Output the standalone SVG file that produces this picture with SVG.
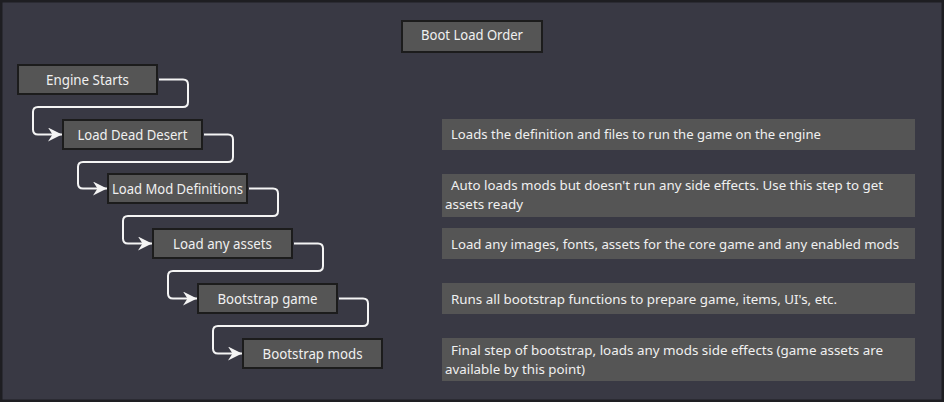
<svg xmlns="http://www.w3.org/2000/svg" width="944" height="402" viewBox="0 0 944 402">
<style>
.bg{fill:#393944;stroke:#1e1e22;stroke-width:3}
.node rect{fill:#555555;stroke:#1c1c1c;stroke-width:2}
.node text{font-family:"Noto Sans","Liberation Sans",sans-serif;font-size:13.5px;fill:#f0f0f0;text-anchor:middle}
.desc rect{fill:#555555}
.desc text{font-family:"Noto Sans","Liberation Sans",sans-serif;font-size:13px;fill:#f0f0f0}
.conn path{fill:none;stroke:#f4f4f4;stroke-width:2;stroke-linejoin:round}
</style>
<defs>
<marker id="arr" markerUnits="userSpaceOnUse" markerWidth="15" markerHeight="15" refX="14" refY="7" orient="auto" viewBox="0 0 15 15">
<path d="M0,0 L14,7 L0,14 L4.5,7 Z" fill="#f4f4f4"/>
</marker>
</defs>
<rect class="bg" x="1" y="1" width="942" height="400"/>
<g id="title" class="node">
<rect x="402" y="21" width="140" height="31"/>
<text x="472" y="40" textLength="102" lengthAdjust="spacingAndGlyphs">Boot Load Order</text>
</g>
<g id="connectors" class="conn">
<path d="M159,79.5 H183 Q188,79.5 188,84.5 V102 Q188,107 183,107 H38 Q33,107 33,112 V129.5 Q33,134.5 38,134.5 H62" marker-end="url(#arr)"/>
<path d="M204,134.5 H228 Q233,134.5 233,139.5 V157 Q233,162 228,162 H83 Q78,162 78,167 V183.5 Q78,188.5 83,188.5 H107" marker-end="url(#arr)"/>
<path d="M249,188.5 H273 Q278,188.5 278,193.5 V211 Q278,216 273,216 H128 Q123,216 123,221 V238.5 Q123,243.5 128,243.5 H152" marker-end="url(#arr)"/>
<path d="M294,243.5 H318 Q323,243.5 323,248.5 V266 Q323,271 318,271 H173 Q168,271 168,276 V293.5 Q168,298.5 173,298.5 H197" marker-end="url(#arr)"/>
<path d="M339,298.5 H363 Q368,298.5 368,303.5 V321 Q368,326 363,326 H218 Q213,326 213,331 V348.5 Q213,353.5 218,353.5 H242" marker-end="url(#arr)"/>
</g>
<g id="n1" class="node"><rect x="18" y="65" width="139" height="29"/><text x="87.5" y="84.5" textLength="83" lengthAdjust="spacingAndGlyphs">Engine Starts</text></g>
<g id="n2" class="node"><rect x="63" y="120" width="139" height="29"/><text x="132.5" y="139.5" textLength="110" lengthAdjust="spacingAndGlyphs">Load Dead Desert</text></g>
<g id="n3" class="node"><rect x="108" y="174" width="139" height="29"/><text x="177.5" y="193.5" textLength="131" lengthAdjust="spacingAndGlyphs">Load Mod Definitions</text></g>
<g id="n4" class="node"><rect x="153" y="229" width="139" height="29"/><text x="222.5" y="248.5" textLength="99" lengthAdjust="spacingAndGlyphs">Load any assets</text></g>
<g id="n5" class="node"><rect x="198" y="284" width="139" height="29"/><text x="267.5" y="303.5" textLength="100" lengthAdjust="spacingAndGlyphs">Bootstrap game</text></g>
<g id="n6" class="node"><rect x="243" y="339" width="139" height="29"/><text x="312.5" y="358.5" textLength="100" lengthAdjust="spacingAndGlyphs">Bootstrap mods</text></g>
<g id="d1" class="desc"><rect x="442" y="119" width="473" height="31"/><text x="451" y="138.5" textLength="370" lengthAdjust="spacingAndGlyphs">Loads the definition and files to run the game on the engine</text></g>
<g id="d2" class="desc"><rect x="442" y="174" width="473" height="43"/><text x="451" y="190" textLength="432" lengthAdjust="spacingAndGlyphs">Auto loads mods but doesn't run any side effects. Use this step to get</text><text x="445" y="209" textLength="78" lengthAdjust="spacingAndGlyphs">assets ready</text></g>
<g id="d3" class="desc"><rect x="442" y="228" width="473" height="31"/><text x="451" y="248.5" textLength="448" lengthAdjust="spacingAndGlyphs">Load any images, fonts, assets for the core game and any enabled mods</text></g>
<g id="d4" class="desc"><rect x="442" y="283" width="473" height="31"/><text x="451" y="303.5" textLength="386" lengthAdjust="spacingAndGlyphs">Runs all bootstrap functions to prepare game, items, UI's, etc.</text></g>
<g id="d5" class="desc"><rect x="442" y="338" width="473" height="43"/><text x="451" y="355" textLength="432" lengthAdjust="spacingAndGlyphs">Final step of bootstrap, loads any mods side effects (game assets are</text><text x="445" y="373.5" textLength="140" lengthAdjust="spacingAndGlyphs">available by this point)</text></g>
</svg>
